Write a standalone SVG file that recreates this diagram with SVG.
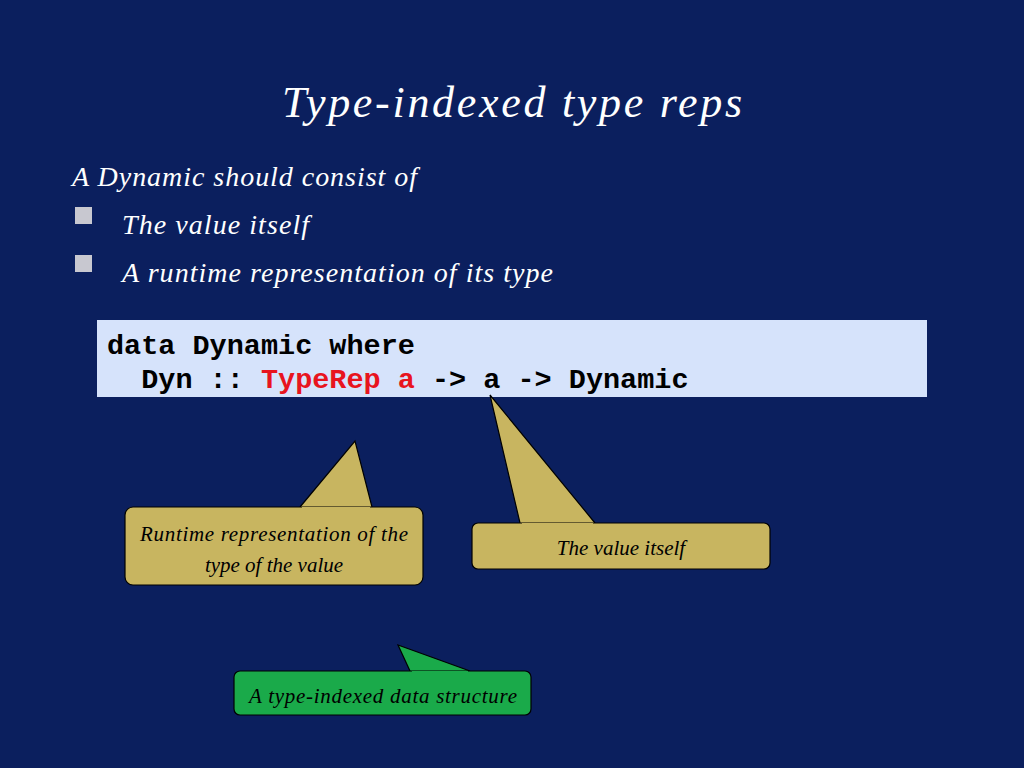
<svg xmlns="http://www.w3.org/2000/svg" width="1024" height="768" viewBox="0 0 1024 768">
<style>
.s{font-family:"Liberation Serif","DejaVu Serif",serif;font-style:italic}
.m{font-family:"Liberation Mono","DejaVu Sans Mono",monospace;font-weight:bold;font-size:28.5px}
.c{stroke:#000;stroke-width:1.2}
</style>
<rect width="1024" height="768" fill="#0b1f5e"/>
<text class="s" x="512" y="117" text-anchor="middle" font-size="44" fill="#fff" textLength="460">Type-indexed type reps</text>
<text class="s" x="72" y="186" font-size="28" fill="#fff" textLength="345">A Dynamic should consist of</text>
<rect x="75" y="207" width="17" height="17" fill="#c8c8d0"/>
<text class="s" x="122" y="234" font-size="28" fill="#fff" textLength="187">The value itself</text>
<rect x="75" y="255" width="17" height="17" fill="#c8c8d0"/>
<text class="s" x="122" y="282" font-size="28" fill="#fff" textLength="431">A runtime representation of its type</text>
<g id="code">
<rect x="97" y="320" width="830" height="77" fill="#d6e3fb"/>
<text class="m" x="107" y="354" fill="#000">data Dynamic where</text>
<text class="m" x="107" y="388" fill="#000" xml:space="preserve">  Dyn :: <tspan fill="#e8141e">TypeRep a</tspan> -&gt; a -&gt; Dynamic</text>
</g>
<g id="callout1">
<path class="c" d="M300,507 L355,441 L372,507" fill="#c8b560"/>
<rect class="c" x="125" y="507" width="298" height="78" rx="8" fill="#c8b560"/>
<path d="M302,508 L370,508" stroke="#c8b560" stroke-width="2"/>
<text class="s" x="274" y="541" text-anchor="middle" font-size="21" fill="#000" textLength="268">Runtime representation of the</text>
<text class="s" x="274" y="572" text-anchor="middle" font-size="21" fill="#000">type of the value</text>
</g>
<g id="callout2">
<path class="c" d="M520,523 L490,395 L595,523" fill="#c8b560"/>
<rect class="c" x="472" y="523" width="298" height="46" rx="6" fill="#c8b560"/>
<path d="M522,524 L593,524" stroke="#c8b560" stroke-width="2"/>
<text class="s" x="621" y="555" text-anchor="middle" font-size="21" fill="#000">The value itself</text>
</g>
<g id="callout3">
<path class="c" d="M410,671 L398,645 L470,671" fill="#1aaa4a"/>
<rect class="c" x="234" y="671" width="297" height="44" rx="6" fill="#1aaa4a"/>
<path d="M412,672 L468,672" stroke="#1aaa4a" stroke-width="2"/>
<text class="s" x="383" y="703" text-anchor="middle" font-size="21" fill="#000" textLength="268">A type-indexed data structure</text>
</g>
</svg>
